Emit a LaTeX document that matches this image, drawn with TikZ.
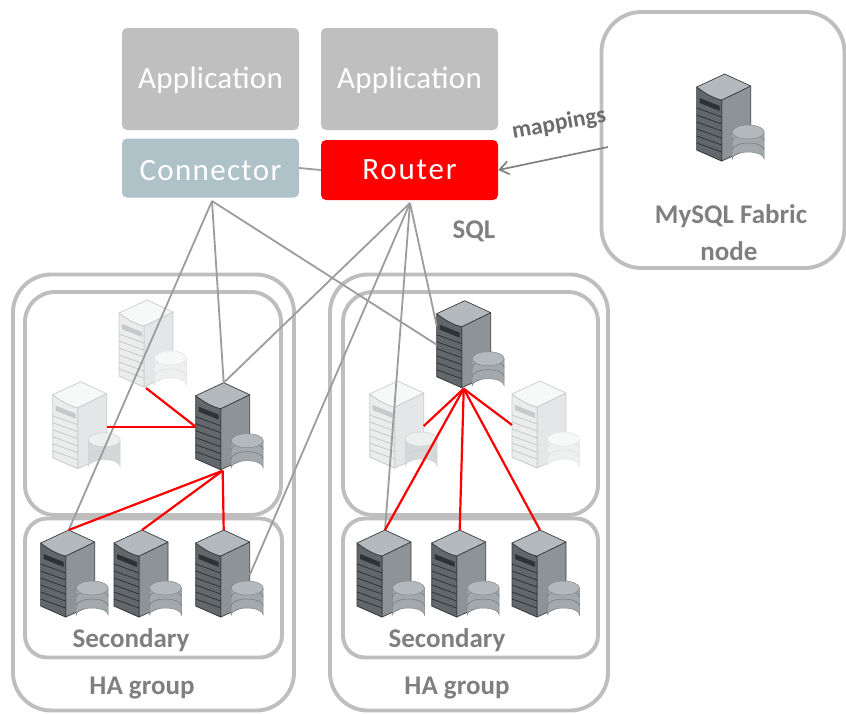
\documentclass[tikz,border=0pt]{standalone}
\usepackage{fontspec}
\setmainfont{Carlito}
\usetikzlibrary{arrows.meta}
\definecolor{boxgray}{HTML}{BFBFBF}
\definecolor{connblue}{HTML}{AFC2C8}
\definecolor{framegray}{HTML}{BEBEBE}
\definecolor{wiregray}{HTML}{9C9C9C}
\definecolor{txtgray}{HTML}{7F7F7F}
\newcommand{\srvicon}[7]{%
  % #1 top, #2 front, #3 side, #4 outline, #5 stripe, #6 cylinder body, #7 cylinder top
  \fill[#3,draw=#4,line width=.7pt,line join=round] (25,26) -- (54,12) -- (54,74) -- (25,87) -- cycle;
  \fill[#2,draw=#4,line width=.9pt,line join=round] (0,13) .. controls (8,19) and (16,24) .. (25,26) -- (25,87) -- (0,76) -- cycle;
  \fill[#1,draw=#4,line width=.7pt,line join=round] (0,13) -- (28,0) -- (54,12) -- (25,26) .. controls (16,24) and (8,19) .. (0,13) -- cycle;
  \foreach \yy in {34,41,48,55,62,69}
    \draw[#5,line width=.8pt] (0,\yy) -- (25,\yy+9);
  \fill[#5] (3,24) -- (23,32) -- (23,37) -- (3,29) -- cycle;
  \fill[#6,draw=#4!30!#6,line width=.5pt] (35.5,58) -- (35.5,85) arc[start angle=180,end angle=360,x radius=16,y radius=7] -- (67.5,58) -- cycle;
  \draw[#4!40!#6,line width=.6pt] (35.5,67) arc[start angle=180,end angle=360,x radius=16,y radius=7];
  \draw[#4!40!#6,line width=.6pt] (35.5,76) arc[start angle=180,end angle=360,x radius=16,y radius=7];
  \fill[#7,draw=#4!30!#6,line width=.5pt] (51.5,58) ellipse[x radius=16,y radius=7];
  \coordinate (-top) at (28,0);
  \coordinate (-bottom) at (27,88);
  \coordinate (-left) at (0,44);
  \coordinate (-right) at (54,45);
  \coordinate (-upleft) at (0,25);
}
\tikzset{
  x=1pt,y=-1pt,
  srv/.pic={\srvicon{srvtop}{srvfront}{srvside}{srvline}{srvstripe}{srvcyl}{srvcyltop}},
  ghostsrv/.pic={\srvicon{ghtop}{ghfront}{ghside}{ghline}{ghstripe}{ghcyl}{ghcyltop}},
  ghostsrvb/.pic={\srvicon{ghtop}{ghfront}{ghside}{ghline}{ghstripe}{ghcylb}{ghcyltopb}},
  bluebox/.style={fill=#1,rounded corners=5pt,inner sep=0pt,text=white,minimum width=177pt},
  frame/.style={draw=framegray,line width=3.9pt,inner sep=0pt},
  wire/.style={draw=wiregray,line width=1.8pt},
  rep/.style={draw=red,line width=2.2pt},
  lab/.style={text=txtgray,font=\fontsize{27}{30}\selectfont\bfseries,inner sep=0pt}
}
\newcommand{\spaced}[2]{{\fontsize{31}{34}\selectfont\addfontfeature{LetterSpace=#1}#2}}
\definecolor{srvtop}{HTML}{B3B9BD}
\definecolor{srvfront}{HTML}{62676B}
\definecolor{srvside}{HTML}{8D9397}
\definecolor{srvline}{HTML}{3A3D40}
\definecolor{srvstripe}{HTML}{2F3235}
\definecolor{srvcyl}{HTML}{A2A8AC}
\definecolor{srvcyltop}{HTML}{B3B9BD}
\definecolor{ghtop}{HTML}{F7F8F8}
\definecolor{ghfront}{HTML}{EBEDED}
\definecolor{ghside}{HTML}{E4E6E7}
\definecolor{ghline}{HTML}{C9CCCD}
\definecolor{ghstripe}{HTML}{C6C9CA}
\definecolor{ghcyl}{HTML}{EEF0F0}
\definecolor{ghcyltop}{HTML}{F7F8F8}
\definecolor{ghcylb}{HTML}{D5D8D9}
\definecolor{ghcyltopb}{HTML}{EEF0F0}
\begin{document}
\begin{tikzpicture}
\useasboundingbox (0,0) rectangle (846,713);
% frames
\node[frame,rounded corners=38pt,minimum width=281pt,minimum height=436pt] (hal) at (153.5,492.5) {};
\node[frame,rounded corners=38pt,minimum width=278pt,minimum height=436pt] (har) at (469,492.5) {};
\node[frame,rounded corners=30pt,minimum width=256pt,minimum height=223pt] (pl) at (153,403.5) {};
\node[frame,rounded corners=30pt,minimum width=255pt,minimum height=223pt] (pr) at (470.5,403.5) {};
\node[frame,rounded corners=22pt,minimum width=257pt,minimum height=139pt] (sl) at (153.5,588) {};
\node[frame,rounded corners=22pt,minimum width=255pt,minimum height=139pt] (sr) at (470.5,588) {};
\node[frame,rounded corners=40pt,minimum width=243pt,minimum height=256pt] (fab) at (723,140) {};
% boxes
\node[bluebox=boxgray,minimum height=102pt,text height=23pt,text depth=4pt] (app1) at (210.5,79) {\spaced{1}{Application}};
\node[bluebox=boxgray,minimum height=102pt,text height=23pt,text depth=4pt] (app2) at (409.5,79) {\spaced{1}{Application}};
\node[bluebox=connblue,minimum height=59pt,text height=24pt,text depth=0pt] (conn) at (210.5,168) {\spaced{4.3}{Connector}};
\node[bluebox=red,minimum height=60pt] (rout) at (409.5,170) {\spaced{6}{Router}};
% ghost servers
\pic (g1) at (119,300) {ghostsrv};
\pic (g2) at (52.7,381.7) {ghostsrvb};
\pic (g3) at (369.7,381) {ghostsrvb};
\pic (g4) at (512,381) {ghostsrv};
% fan points under the two boxes
\coordinate (cfan) at (212,201);
\coordinate (rfan) at (410,203);
% dark servers
\pic (pa) at (195.7,382.7) {srv};
\pic (pb) at (436.7,300.7) {srv};
\pic (s1) at (40.7,530) {srv};
\pic (s2) at (114,530) {srv};
\pic (s3) at (195.7,530) {srv};
\pic (s4) at (357,530) {srv};
\pic (s5) at (431.7,530) {srv};
\pic (s6) at (512,530) {srv};
\pic (fs) at (696.7,74) {srv};
% wires
\draw[wire] (conn.east) -- (rout.west);
\draw[wire] (cfan) -- (s1-top);
\draw[wire] (cfan) -- (pa-top);
\draw[wire] (cfan) -- (pb-left);
\draw[wire] (rfan) -- (pa-top);
\draw[wire] (rfan) -- (s3-right);
\draw[wire] (rfan) -- (s4-top);
\draw[wire] (rfan) -- (pb-upleft);
% replication
\draw[rep] (g1-bottom) -- (pa-left);
\draw[rep] (g2-right) -- (pa-left);
\draw[rep] (pa-bottom) -- (s1-top);
\draw[rep] (pa-bottom) -- (s2-top);
\draw[rep] (pa-bottom) -- (s3-top);
\draw[rep] (pb-bottom) -- (g3-right);
\draw[rep] (pb-bottom) -- (g4-left);
\draw[rep] (pb-bottom) -- (s4-top);
\draw[rep] (pb-bottom) -- (s5-top);
\draw[rep] (pb-bottom) -- (s6-top);
% mappings arrow
\coordinate (fabin) at (608,147);
\draw[draw=gray,line width=1.7pt,-{Straight Barb[length=9pt,width=13pt]}] (fabin) -- (rout.east);
% labels
\node[text=txtgray!85!black,font=\fontsize{23.5}{26}\selectfont\bfseries,rotate=10,inner sep=0pt] (map) at (559,124) {mappings};
\node[lab] (sql) at (474,231) {SQL};
\node[lab] (fab1) at (731,216) {MySQL Fabric};
\node[lab] (fab2) at (729,251) {node};
\node[lab] (sec1) at (131,640) {Secondary};
\node[lab] (sec2) at (447,640) {Secondary};
\node[lab] (ha1) at (142,688) {HA group};
\node[lab] (ha2) at (457,688) {HA group};
\end{tikzpicture}
\end{document}
